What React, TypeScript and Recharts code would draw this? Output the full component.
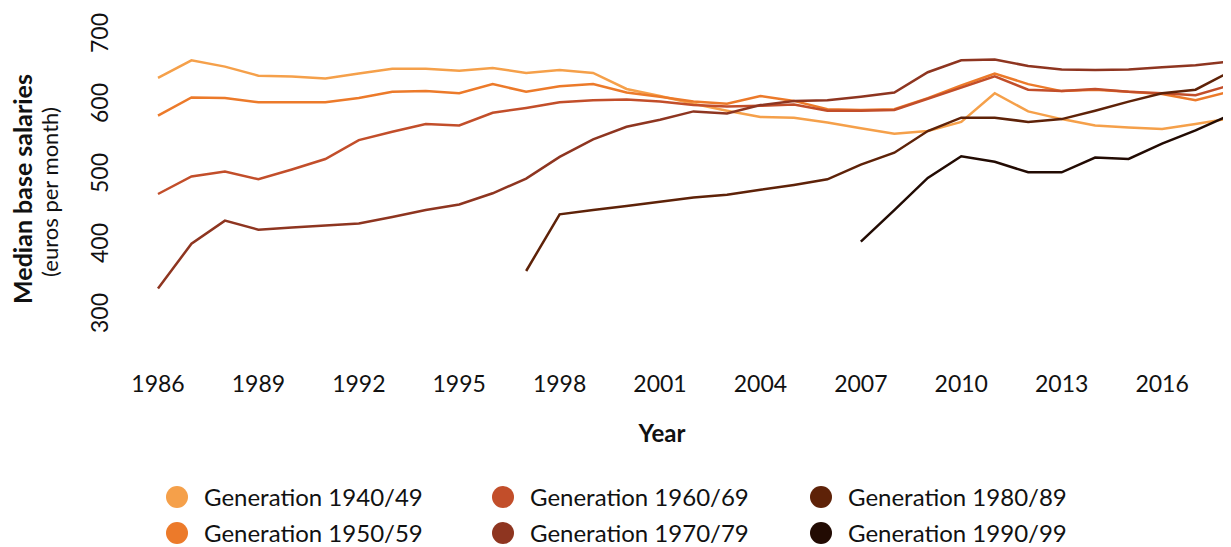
import React from 'react';
import { LineChart, Line, XAxis, YAxis, Legend } from 'recharts';

const years = [1986, 1987, 1988, 1989, 1990, 1991, 1992, 1993, 1994, 1995, 1996, 1997, 1998, 1999, 2000, 2001, 2002, 2003, 2004, 2005, 2006, 2007, 2008, 2009, 2010, 2011, 2012, 2013, 2014, 2015, 2016, 2017, 2018];

const g1940 = [636, 661, 652, 639, 638, 635, 642, 649, 649, 646, 650, 643, 647, 643, 620, 610, 599, 589, 580, 579, 572, 564, 556, 560, 573, 614, 588, 577, 568, 565, 563, 570, 578];
const g1950 = [582, 608, 607, 601, 601, 601, 607, 616, 617, 614, 627, 616, 624, 627, 615, 609, 602, 599, 610, 603, 591, 590, 591, 607, 625, 642, 627, 617, 619, 616, 613, 604, 616];
const g1960 = [470, 495, 502, 491, 505, 520, 547, 559, 570, 568, 586, 593, 601, 604, 605, 602, 597, 595, 596, 598, 589, 589, 590, 606, 622, 638, 619, 617, 620, 616, 614, 611, 625];
const g1970 = [335, 399, 432, 419, 422, 425, 428, 437, 447, 455, 471, 492, 523, 548, 566, 576, 588, 585, 597, 603, 604, 609, 615, 644, 661, 662, 653, 648, 647, 648, 651, 654, 659];
const g1980 = [null, null, null, null, null, null, null, null, null, null, null, 360, 441, 447, 453, 459, 465, 469, 476, 483, 491, 512, 529, 560, 579, 579, 573, 577, 589, 602, 614, 619, 644];
const g1990 = [null, null, null, null, null, null, null, null, null, null, null, null, null, null, null, null, null, null, null, null, null, 402, 447, 493, 524, 516, 501, 501, 522, 520, 542, 561, 582];

const xTicks = [1986, 1989, 1992, 1995, 1998, 2001, 2004, 2007, 2010, 2013, 2016];
const yTicks = [300, 400, 500, 600, 700];

const seriesKeys = ['g1940', 'g1950', 'g1960', 'g1970', 'g1980', 'g1990'];
const seriesNames = ['Generation 1940/49', 'Generation 1950/59', 'Generation 1960/69', 'Generation 1970/79', 'Generation 1980/89', 'Generation 1990/99'];
const seriesColors = ['#F5A04A', '#EC7A2A', '#C24E2A', '#8E3520', '#5E2208', '#220B03'];
const seriesValues = [g1940, g1950, g1960, g1970, g1980, g1990];

const data = years.map((year, i) => {
  const row: any = { year };
  seriesKeys.forEach((k, j) => {
    row[k] = seriesValues[j][i];
  });
  return row;
});

const FONT = 'Lato, "Open Sans", sans-serif';
const TEXT = '#111';

const XTick = (props: any) => {
  const { x, y, payload } = props;
  return (
    <text x={x} y={y + 79} textAnchor="middle" fontFamily={FONT} fontSize={23} fill={TEXT}>
      {payload.value}
    </text>
  );
};

const YTick = (props: any) => {
  const { x, y, payload } = props;
  const bx = x - 50;
  return (
    <text x={bx} y={y} transform={`rotate(-90 ${bx} ${y})`} textAnchor="middle" fontFamily={FONT} fontSize={23} fill={TEXT}>
      {payload.value}
    </text>
  );
};

const YLabel = (props: any) => {
  const vb = props.viewBox || { x: 0, y: 25, width: 150, height: 280 };
  const x1 = vb.x + 24;
  const y1 = vb.y + 156;
  const x2 = vb.x + 50;
  const y2 = vb.y + 159;
  return (
    <g>
      <text x={x1} y={y1} transform={`rotate(-90 ${x1} ${y1})`} textAnchor="middle" fontFamily={FONT} fontSize={25} fontWeight={700} fill={TEXT}>
        Median base salaries
      </text>
      <text x={x2} y={y2} transform={`rotate(-90 ${x2} ${y2})`} textAnchor="middle" fontFamily={FONT} fontSize={22} fill={TEXT}>
        (euros per month)
      </text>
    </g>
  );
};

const XLabel = (props: any) => {
  const vb = props.viewBox || { x: 150, y: 305, width: 1071, height: 144 };
  return (
    <text x={vb.x + 504} y={vb.y + 129} textAnchor="middle" fontFamily={FONT} fontSize={24} fontWeight={700} fill={TEXT}>
      Year
    </text>
  );
};

const colLeft = [158, 484, 802];
const rowCenter = [40, 76];

const LegendContent = () => (
  <div style={{ position: 'relative', height: 90, width: '100%', fontFamily: FONT }}>
    {seriesNames.map((name, i) => {
      const col = Math.floor(i / 2);
      const row = i % 2;
      return (
        <div key={name} style={{ position: 'absolute', left: colLeft[col], top: rowCenter[row] - 11, height: 22, display: 'flex', alignItems: 'center', whiteSpace: 'nowrap' }}>
          <span style={{ display: 'inline-block', width: 22, height: 22, borderRadius: '50%', background: seriesColors[i], marginRight: 16 }} />
          <span style={{ fontSize: 24, color: TEXT, lineHeight: '22px' }}>{name}</span>
        </div>
      );
    })}
  </div>
);

export default function App() {
  return (
    <div style={{ width: 1223, height: 539, overflow: 'hidden', fontFamily: FONT }}>
      <LineChart width={1223} height={539} data={data} margin={{ top: 25, right: 2, left: 0, bottom: 0 }}>
        <XAxis
          dataKey="year"
          type="number"
          domain={[1986, 2018]}
          ticks={xTicks}
          axisLine={false}
          tickLine={false}
          tickSize={0}
          tickMargin={0}
          height={144}
          tick={<XTick />}
          label={<XLabel />}
          interval={0}
        />
        <YAxis
          domain={[300, 700]}
          ticks={yTicks}
          axisLine={false}
          tickLine={false}
          tickSize={0}
          tickMargin={0}
          width={150}
          tick={<YTick />}
          label={<YLabel />}
          allowDataOverflow
        />
        <Legend verticalAlign="bottom" content={<LegendContent />} />
        {seriesKeys.map((k, i) => (
          <Line
            key={k}
            dataKey={k}
            name={seriesNames[i]}
            type="linear"
            stroke={seriesColors[i]}
            strokeWidth={2.5}
            dot={false}
            activeDot={false}
            isAnimationActive={false}
          />
        ))}
      </LineChart>
    </div>
  );
}
